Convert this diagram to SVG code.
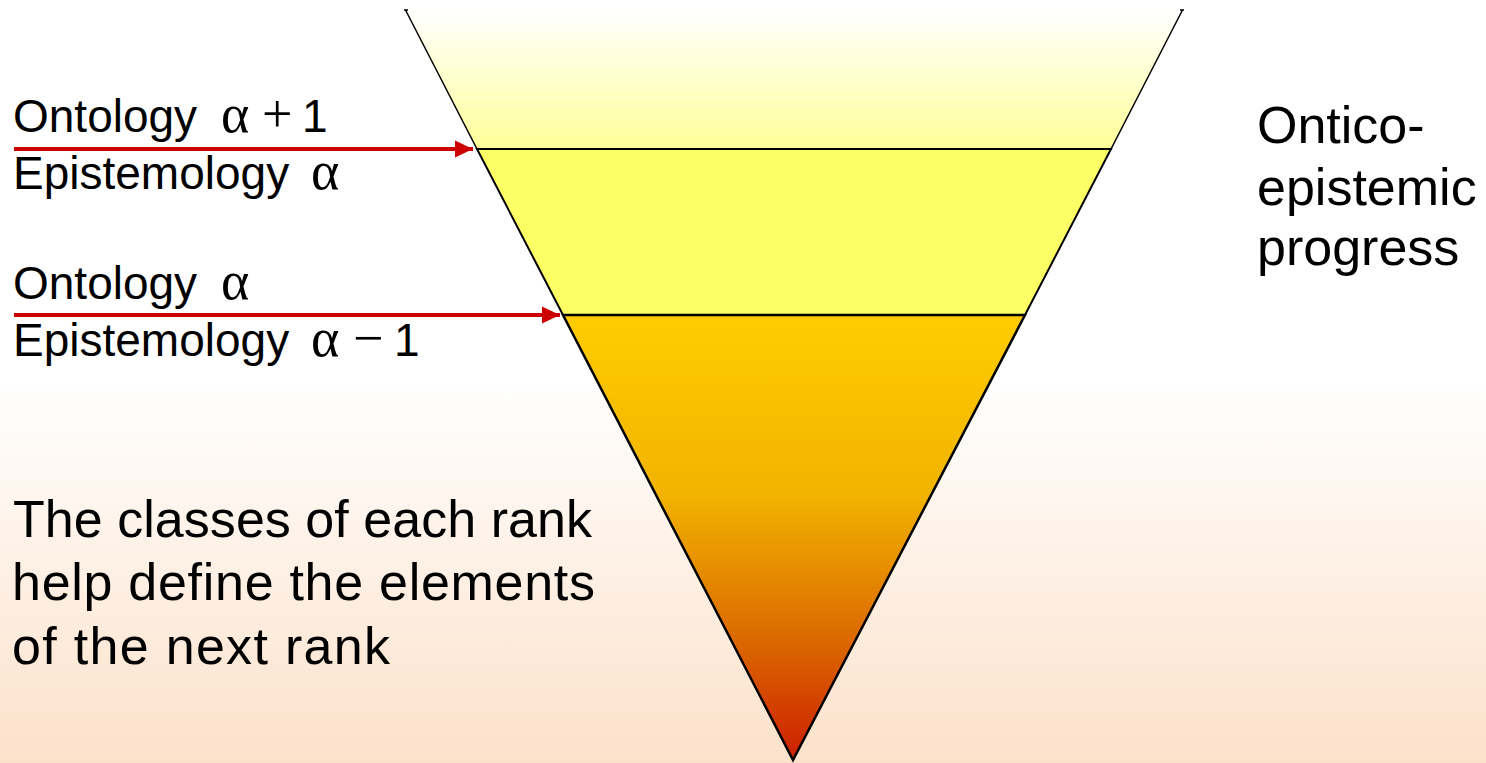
<svg xmlns="http://www.w3.org/2000/svg" width="1486" height="763" viewBox="0 0 1486 763">
<defs>
<linearGradient id="bg" x1="0" y1="0" x2="0" y2="1">
<stop offset="0" stop-color="#FFFFFF"/>
<stop offset="0.5" stop-color="#FFFFFF"/>
<stop offset="1" stop-color="#FCE1CA"/>
</linearGradient>
<linearGradient id="topg" x1="0" y1="10" x2="0" y2="149" gradientUnits="userSpaceOnUse">
<stop offset="0" stop-color="#FFFFFF"/>
<stop offset="1" stop-color="#FFFF99"/>
</linearGradient>
<linearGradient id="botg" x1="0" y1="315" x2="0" y2="760" gradientUnits="userSpaceOnUse">
<stop offset="0" stop-color="#FFCC00"/>
<stop offset="0.4" stop-color="#F2B400"/>
<stop offset="0.75" stop-color="#DA6400"/>
<stop offset="1" stop-color="#CC1E00"/>
</linearGradient>
<marker id="ah" markerWidth="5" markerHeight="5" refX="4.6" refY="2.5" orient="auto" markerUnits="strokeWidth">
<path d="M0,0.3 L4.6,2.5 L0,4.7 Z" fill="#CC0000"/>
</marker>
<style>
.t{font-family:"Liberation Sans",Arial,sans-serif;fill:#000}
.s{font-size:46px}
.b{font-size:52px}
.g{font-family:"Liberation Serif","Times New Roman",serif;font-size:54px}
.edge{stroke:#000;fill:none}
</style>
</defs>
<rect width="1486" height="763" fill="url(#bg)"/>
<g id="funnel-top">
<path d="M405.5,10 L477,149 L1111,149 L1182.5,10 Z" fill="url(#topg)" stroke="none"/>
<path d="M405.5,10 L477,149 L1111,149 L1182.5,10" class="edge" stroke-width="1.5"/>
<path d="M404,10 L408,10 M1180,10 L1184,10" class="edge" stroke-width="1.5"/>
</g>
<g id="funnel-middle">
<path d="M477,149 L1111,149 L1025,315 L563,315 Z" fill="#FFFF66" stroke="#000" stroke-width="2"/>
</g>
<g id="funnel-bottom">
<path d="M563,315 L1025,315 L793,760 Z" fill="url(#botg)" stroke="#000" stroke-width="2.5" stroke-linejoin="miter"/>
</g>
<g id="connectors">
<line x1="14" y1="149" x2="473" y2="149" stroke="#CC0000" stroke-width="4" marker-end="url(#ah)"/>
<line x1="14" y1="315" x2="560" y2="315" stroke="#CC0000" stroke-width="4" marker-end="url(#ah)"/>
</g>
<g id="label-ontology-a1">
<text class="t s" x="13" y="132">Ontology <tspan class="g" x="221">α</tspan> <tspan class="g" x="262">+</tspan> <tspan x="302">1</tspan></text>
</g>
<g id="label-epistemology-a">
<text class="t s" x="13" y="189">Epistemology <tspan class="g" x="311">α</tspan></text>
</g>
<g id="label-ontology-a">
<text class="t s" x="13" y="299">Ontology <tspan class="g" x="221">α</tspan></text>
</g>
<g id="label-epistemology-a-1">
<text class="t s" x="13" y="356">Epistemology <tspan class="g" x="311">α</tspan> <tspan class="g" x="353">−</tspan> <tspan x="394">1</tspan></text>
</g>
<g id="label-progress">
<text class="t b" x="1257" y="143">Ontico-</text>
<text class="t b" x="1257" y="205">epistemic</text>
<text class="t b" x="1257" y="265">progress</text>
</g>
<g id="label-classes">
<text class="t b" x="13" y="537" textLength="579" lengthAdjust="spacing">The classes of each rank</text>
<text class="t b" x="12" y="600" textLength="583" lengthAdjust="spacing">help define the elements</text>
<text class="t b" x="12" y="664" textLength="378" lengthAdjust="spacing">of the next rank</text>
</g>
</svg>
